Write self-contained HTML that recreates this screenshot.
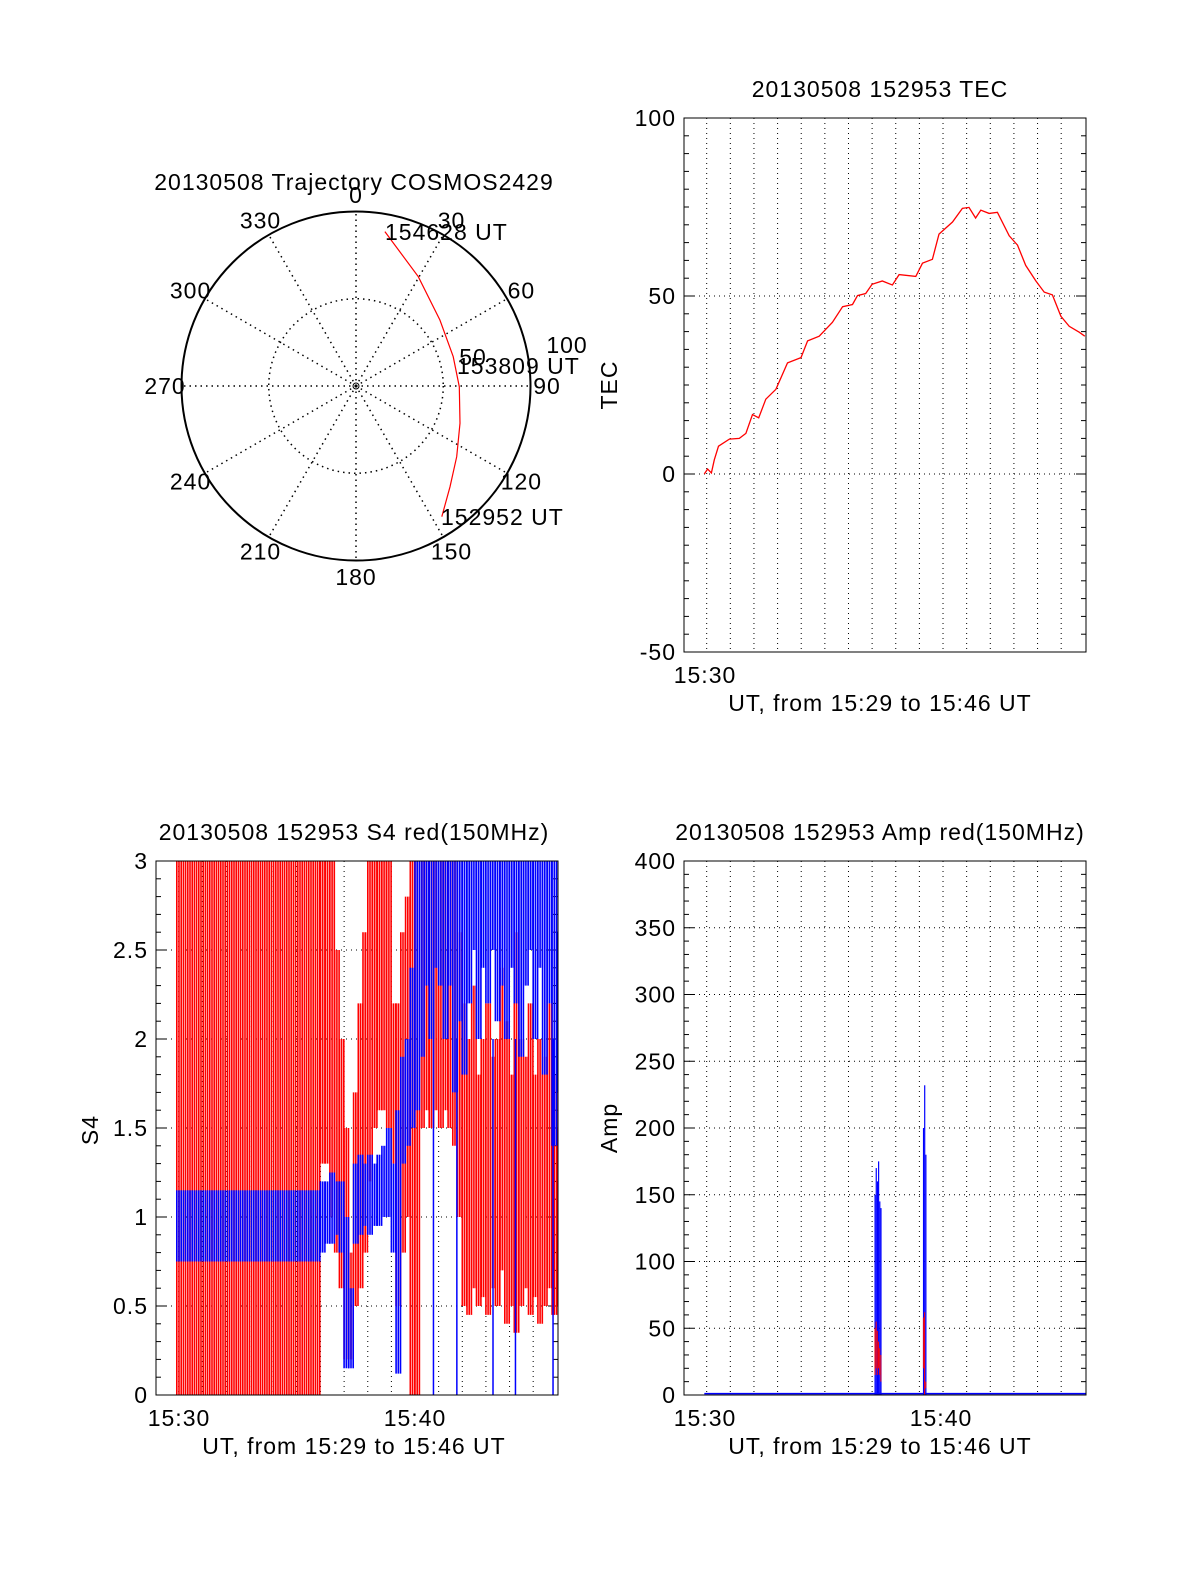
<!DOCTYPE html>
<html><head><meta charset="utf-8"><style>
html,body{margin:0;padding:0;background:#fff;}
svg text{font-family:"Liberation Sans",sans-serif;font-size:23px;letter-spacing:1px;fill:#000;}
</style></head><body>
<svg id="fig" width="1200" height="1575" viewBox="0 0 1200 1575" xmlns="http://www.w3.org/2000/svg">
<g id="polar"></g>
<g id="tec"></g>
<g id="s4"></g>
<g id="amp"></g>
</svg>
<script>
// ---- Trajectory data (azimuth deg, zenith deg) ----
const trajAz = [146.7, 137.0, 125.1, 109.7, 90.4, 73.2, 51.8, 29.7, 10.6];
const trajZen = [89.6, 79.0, 70.5, 63.3, 59.2, 58.2, 61.2, 72.1, 90.0];
const polarAngleLabels = ["0","30","60","90","120","150","180","210","240","270","300","330"];
// ---- TEC data (minutes after 15:00) ----
const tecTimes = [29.9,30.04,30.2,30.32,30.5,30.96,31.38,31.66,31.94,32.2,32.5,32.93,33.42,33.99,34.27,34.76,35.32,35.75,36.17,36.38,36.73,37.0,37.43,37.86,38.14,38.85,39.13,39.55,39.83,40.4,40.82,41.1,41.38,41.6,41.95,42.3,42.8,43.15,43.5,43.93,44.28,44.63,44.99,45.34,45.77,46.0];
const tecValues = [0,1.4,0.3,4,7.8,9.8,10,11.4,16.7,15.8,21,23.8,31.2,32.7,37.4,38.7,42.6,47,47.6,50.1,50.7,53.3,54.2,53.1,56,55.5,59.2,60.3,67.4,70.8,74.6,74.9,71.9,74.1,73.2,73.5,66.9,64.3,58.6,54.2,51.1,50.3,44.3,41.5,39.8,38.7];
const tecTicks = [100,50,0,-50];
// ---- S4 data: time bins with low/high envelope ----
const s4BinStart = [29.92,36.0,36.2,36.4,36.6,36.8,37.0,37.2,37.4,37.6,37.8,38.0,38.2,38.4,38.6,38.8,39.0,39.2,39.4,39.6,39.8,40.0,40.2,40.4,40.6,40.8,41.0,41.2,41.4,41.6,41.8,42.0,42.2,42.4,42.6,42.8,43.0,43.2,43.4,43.6,43.8,44.0,44.2,44.4,44.6,44.8,45.0,45.2,45.4,45.6,45.8,46.0];
const s4BinEnd = [36.0,36.2,36.4,36.6,36.8,37.0,37.2,37.4,37.6,37.8,38.0,38.2,38.4,38.6,38.8,39.0,39.2,39.4,39.6,39.8,40.0,40.2,40.4,40.6,40.8,41.0,41.2,41.4,41.6,41.8,42.0,42.2,42.4,42.6,42.8,43.0,43.2,43.4,43.6,43.8,44.0,44.2,44.4,44.6,44.8,45.0,45.2,45.4,45.6,45.8,46.0,46.05];
const s4RedLow  = [0,1.3,1.3,1.0,0.8,0.6,0.2,0.2,0.5,0.6,0.8,1.2,1.5,1.6,1.6,1.5,1.3,0.5,0.8,1.0,0,0,1.5,1.6,1.5,1.6,1.5,1.6,1.5,1.4,1.0,0.5,0.45,0.6,0.5,0.55,0.45,0.6,0.5,0.7,0.4,0.5,0.35,0.5,0.6,0.45,0.55,0.4,0.5,0.6,0.45,0.5];
const s4RedHigh = [3,3,3,3,2.5,2.0,1.5,0.8,1.7,2.2,2.6,3,3,3,3,3,2.2,2.2,2.6,2.8,3,3,3,3,3,3,3,3,3,3,2.6,2.2,2.0,2.3,1.8,2.0,2.2,1.9,2.0,2.4,2.1,1.8,2.6,2.0,1.9,2.2,1.8,2.0,1.9,2.2,1.8,1.5];
const s4BlueLow  = [0.75,0.8,0.85,0.85,0.9,0.8,0.15,0.15,0.85,0.9,0.95,0.9,0.95,0.95,1.0,1.0,0.8,0.12,1.3,1.4,1.5,1.6,1.9,2.3,2.0,2.4,2.3,2.0,2.3,1.7,2.1,1.8,2.2,2.5,2.0,2.4,2.2,2.5,2.1,2.3,2.0,2.4,2.2,1.9,2.3,2.5,2.0,2.4,1.8,2.2,1.4,1.7];
const s4BlueHigh = [1.15,1.2,1.2,1.25,1.2,1.2,1.0,0.6,1.3,1.35,1.3,1.35,1.3,1.35,1.4,1.5,1.3,1.6,1.9,2.0,2.4,3,3,3,3,3,3,3,3,3,3,3,3,3,3,3,3,3,3,3,3,3,3,3,3,3,3,3,3,3,3,2.6];
const s4BlueSpikeT = [40.78,41.77,43.3,44.25,45.84];
const s4BlueSpikeLow = [0,0,0,0,0];
const s4Ticks = [3,2.5,2,1.5,1,0.5,0];
// ---- Amp data ----
const ampTimes = [37.10,37.15,37.20,37.25,37.30,37.35,39.15,39.20,39.25];
const ampBlue = [150,170,160,175,145,140,200,232,180];
const ampRedLow = [15,20,15,20,15,10,20,0,5];
const ampRedHigh = [50,55,48,40,35,30,58,62,10];
const ampBaseline = 1;
const ampTicks = [400,350,300,250,200,150,100,50,0];

const NS="http://www.w3.org/2000/svg";
function mk(parent,tag,attrs){const e=document.createElementNS(NS,tag);for(const k in attrs)e.setAttribute(k,attrs[k]);parent.appendChild(e);return e;}
function txt(parent,x,y,s,anchor,extra){const t=mk(parent,'text',Object.assign({x:x,y:y,'text-anchor':anchor||'middle','dominant-baseline':'central'},extra||{}));t.textContent=s;return t;}

const XMIN=29.04, XMAX=46.05;
function makeAxes(g,box,ymin,ymax,majors,minorStep,labels){
  const xs=t=>box.x0+(t-XMIN)/(XMAX-XMIN)*(box.x1-box.x0);
  const ys=v=>box.y1-(v-ymin)/(ymax-ymin)*(box.y1-box.y0);
  for(let m=30;m<=45;m++){const l=mk(g,'line',{x1:xs(m),x2:xs(m),y1:box.y0,y2:box.y1,stroke:'#000','stroke-width':1,'stroke-dasharray':'1 4'});
  
  }
  majors.forEach(v=>{if(v>ymin&&v<ymax){const l=mk(g,'line',{x1:box.x0,x2:box.x1,y1:ys(v),y2:ys(v),stroke:'#000','stroke-width':1,'stroke-dasharray':'1 4'});
  
  }});
  for(let v=ymin;v<=ymax+1e-9;v+=minorStep){const isMaj=majors.some(m=>Math.abs(m-v)<1e-6);const L=isMaj?10:5;
    mk(g,'line',{x1:box.x0,x2:box.x0+L,y1:ys(v),y2:ys(v),stroke:'#000','stroke-width':1});
    mk(g,'line',{x1:box.x1,x2:box.x1-L,y1:ys(v),y2:ys(v),stroke:'#000','stroke-width':1});}
  majors.forEach((v,i)=>{const t=txt(g,box.x0-8,ys(v),labels[i],'end');
  
  });
  return {xs,ys};
}
function frame(g,box){const r=mk(g,'rect',{x:box.x0,y:box.y0,width:box.x1-box.x0,height:box.y1-box.y0,fill:'none',stroke:'#000','stroke-width':1});

}

// ---------- Polar ----------
(function(){
  const g=document.getElementById('polar');const cx=356,cy=386,R=174.5;
  const t=txt(g,354,182,'20130508 Trajectory COSMOS2429');
  
  for(let a=0;a<360;a+=30){const r=a*Math.PI/180;mk(g,'line',{x1:cx,y1:cy,x2:cx+R*Math.sin(r),y2:cy-R*Math.cos(r),stroke:'#000','stroke-width':1.5,'stroke-dasharray':'1.5 4'});}
  mk(g,'circle',{cx:cx,cy:cy,r:R/2,fill:'none',stroke:'#000','stroke-width':1.5,'stroke-dasharray':'1.5 4'});
  mk(g,'circle',{cx:cx,cy:cy,r:3,fill:'none',stroke:'#000','stroke-width':1});
  const c=mk(g,'circle',{cx:cx,cy:cy,r:R,fill:'none',stroke:'#000','stroke-width':2});
  
  polarAngleLabels.forEach((s,i)=>{const r=i*30*Math.PI/180;const l=txt(g,cx+191*Math.sin(r),cy-191*Math.cos(r),s);
    });
  txt(g,473,357,'50');txt(g,567,345,'100');
  const pts=trajAz.map((a,i)=>{const r=a*Math.PI/180,rr=trajZen[i]/100*R;return (cx+rr*Math.sin(r)).toFixed(1)+','+(cy-rr*Math.cos(r)).toFixed(1);});
  const p=mk(g,'polyline',{points:pts.join(' '),fill:'none',stroke:'#f00','stroke-width':1.2});
  
  txt(g,385,232,'154628 UT','start');txt(g,457,366,'153809 UT','start');txt(g,441,517,'152952 UT','start');
})();

// ---------- TEC ----------
(function(){
  const g=document.getElementById('tec');const box={x0:684,x1:1086,y0:118,y1:652};
  const ax=makeAxes(g,box,-50,100,tecTicks,5,tecTicks.map(String));
  const p=mk(g,'polyline',{points:tecTimes.map((t,i)=>ax.xs(t).toFixed(1)+','+ax.ys(tecValues[i]).toFixed(1)).join(' '),fill:'none',stroke:'#f00','stroke-width':1.3});
  
  frame(g,box);
  let t=txt(g,880,89,'20130508 152953 TEC');
  t=txt(g,705,675,'15:30');
  t=txt(g,880,703,'UT, from 15:29 to 15:46 UT');
  t=txt(g,0,0,'TEC','middle',{transform:'translate(609,385) rotate(-90)'});
})();

// ---------- S4 ----------
(function(){
  const g=document.getElementById('s4');const box={x0:156,x1:558,y0:861,y1:1395};
  const ax=makeAxes(g,box,0,3,s4Ticks,0.1,s4Ticks.map(String));
  function drawBins(lows,highs,color,name){
    const grp=mk(g,'g',{stroke:color,'stroke-width':1.6});
    
    
    s4BinStart.forEach((s,i)=>{
      const xa=ax.xs(s),xb=ax.xs(s4BinEnd[i]);
      const y1=ax.ys(highs[i]),y2=ax.ys(lows[i]);
      for(let x=xa;x<xb;x+=2.2){mk(grp,'line',{x1:x.toFixed(1),x2:x.toFixed(1),y1:y1,y2:y2});}
    });
  }
  drawBins(s4RedLow,s4RedHigh,'#f00','s4-red-series');
  drawBins(s4BlueLow,s4BlueHigh,'#00f','s4-blue-series');
  s4BlueSpikeT.forEach((s,i)=>{const l=mk(g,'line',{x1:ax.xs(s),x2:ax.xs(s),y1:ax.ys(2),y2:ax.ys(s4BlueSpikeLow[i]),stroke:'#00f','stroke-width':1.5});
    });
  frame(g,box);
  let t=txt(g,354,832,'20130508 152953 S4 red(150MHz)');
  t=txt(g,179,1418,'15:30');
  t=txt(g,415,1418,'15:40');
  t=txt(g,354,1446,'UT, from 15:29 to 15:46 UT');
  t=txt(g,0,0,'S4','middle',{transform:'translate(90,1130) rotate(-90)'});
})();

// ---------- Amp ----------
(function(){
  const g=document.getElementById('amp');const box={x0:684,x1:1086,y0:861,y1:1395};
  const ax=makeAxes(g,box,0,400,ampTicks,10,ampTicks.map(String));
  const bl=mk(g,'line',{x1:ax.xs(29.9),x2:ax.xs(46.05),y1:ax.ys(ampBaseline),y2:ax.ys(ampBaseline),stroke:'#00f','stroke-width':1.5});
  
  const w=ax.xs(0.05)-ax.xs(0);
  ampTimes.forEach((t,i)=>{const r=mk(g,'rect',{x:ax.xs(t),width:w,y:ax.ys(ampBlue[i]),height:ax.ys(0)-ax.ys(ampBlue[i]),fill:'#00f'});
    });
  ampTimes.forEach((t,i)=>{const r=mk(g,'rect',{x:ax.xs(t),width:w*0.8,y:ax.ys(ampRedHigh[i]),height:ax.ys(ampRedLow[i])-ax.ys(ampRedHigh[i]),fill:'#f00'});
    });
  frame(g,box);
  let t=txt(g,880,832,'20130508 152953 Amp red(150MHz)');
  t=txt(g,705,1418,'15:30');
  t=txt(g,941,1418,'15:40');
  t=txt(g,880,1446,'UT, from 15:29 to 15:46 UT');
  t=txt(g,0,0,'Amp','middle',{transform:'translate(609,1128) rotate(-90)'});
})();
</script>
</body></html>
